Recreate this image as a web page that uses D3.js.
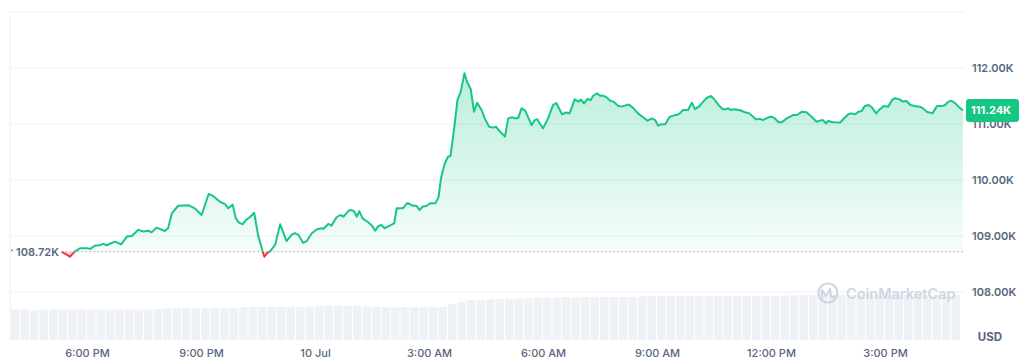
<!DOCTYPE html>
<html>
<head>
<meta charset="utf-8">
<script src="https://cdn.jsdelivr.net/npm/d3@7"></script>
<style>
  body { margin: 0; background: #fff; }
  text { font-family: Inter, "Noto Sans", sans-serif; }
</style>
</head>
<body>
<div id="chart"></div>
<script>
// price samples, 9 Jul 17:20 -> 10 Jul 17:03 (clock times roll over at midnight)
var priceTimes = ["17:20","17:27","17:33","17:41","17:49","18:00","18:05","18:13","18:20","18:26","18:31","18:44","18:54","19:03","19:11","19:21","19:29","19:37","19:42","19:50","20:03","20:08","20:14","20:24","20:40","20:50","21:01","21:12","21:19","21:30","21:38","21:43","21:50","21:55","22:00","22:06","22:11","22:17","22:24","22:30","22:37","22:40","22:45","22:50","22:57","23:05","23:15","23:23","23:28","23:34","23:41","23:47","23:55","00:03","00:11","00:13","00:21","00:26","00:34","00:40","00:45","00:53","00:58","01:02","01:06","01:10","01:15","01:24","01:30","01:35","01:40","01:45","01:50","01:58","02:05","02:09","02:17","02:20","02:25","02:30","02:34","02:40","02:45","02:50","02:56","03:02","03:10","03:15","03:19","03:25","03:30","03:34","03:40","03:45","03:50","03:56","04:00","04:06","04:11","04:16","04:23","04:28","04:35","04:41","04:46","04:52","05:00","05:05","05:11","05:16","05:21","05:26","05:32","05:42","05:47","05:51","05:55","06:00","06:08","06:16","06:21","06:30","06:37","06:42","06:50","06:56","07:00","07:05","07:10","07:15","07:19","07:25","07:30","07:35","07:41","07:46","07:51","07:59","08:04","08:15","08:23","08:30","08:38","08:45","08:52","08:57","09:02","09:07","09:13","09:20","09:26","09:31","09:36","09:41","09:49","09:55","10:00","10:07","10:13","10:18","10:25","10:29","10:37","10:44","10:49","10:53","10:56","11:02","11:11","11:19","11:26","11:36","11:43","11:47","11:56","12:01","12:06","12:12","12:17","12:25","12:35","12:41","12:49","12:56","13:04","13:12","13:17","13:22","13:27","13:30","13:38","13:49","13:54","14:02","14:07","14:13","14:18","14:23","14:28","14:34","14:39","14:46","14:52","14:58","15:05","15:11","15:16","15:23","15:28","15:34","15:40","15:47","15:55","16:00","16:06","16:15","16:22","16:30","16:35","16:40","16:45","16:51","16:56","17:03"];
var priceValues = [108720,108670,108630,108725,108780,108780,108770,108830,108835,108860,108835,108900,108850,108990,109000,109110,109080,109095,109065,109150,109090,109140,109405,109540,109550,109495,109375,109750,109715,109610,109570,109495,109560,109315,109240,109210,109285,109335,109415,109020,108740,108630,108700,108740,108840,109210,108910,109020,109050,109020,108880,108910,109050,109120,109140,109125,109215,109185,109335,109375,109345,109450,109465,109435,109345,109445,109315,109245,109185,109095,109180,109195,109140,109185,109225,109495,109495,109505,109585,109570,109540,109540,109465,109525,109535,109585,109585,109690,110035,110300,110415,110430,110950,111430,111575,111905,111755,111620,111220,111380,111250,111100,110950,110935,110950,110865,110775,111100,111120,111100,111110,111280,111240,110980,111070,111085,111010,110925,111100,111340,111375,111175,111205,111190,111440,111400,111435,111365,111450,111425,111500,111550,111505,111505,111470,111415,111400,111320,111310,111350,111280,111190,111120,111060,111100,111070,110970,110995,110995,111130,111150,111160,111190,111250,111250,111380,111265,111320,111400,111460,111500,111460,111340,111265,111265,111280,111250,111265,111245,111210,111190,111085,111090,111070,111120,111130,111100,111030,111030,111100,111160,111160,111220,111210,111130,111040,111060,111070,111010,111055,111030,111025,111085,111175,111190,111175,111220,111230,111320,111340,111300,111190,111265,111320,111310,111430,111460,111440,111400,111410,111340,111320,111310,111280,111220,111190,111320,111320,111340,111400,111415,111370,111310,111240];

// volume (billions USD), 15 minute slots from 9 Jul 16:00
var volumeStart = "16:00";
var volumeValues = [51.3,51.0,49.4,50.9,51.2,50.6,50.8,51.1,50.7,50.9,50.5,50.8,51.0,50.6,50.9,51.4,
  52.4,52.8,53.0,52.6,53.1,52.9,53.3,53.8,
  54.6,55.0,54.8,55.3,55.1,55.4,55.0,55.6,
  56.4,56.8,56.6,57.0,56.7,56.1,
  54.9,54.5,54.3,54.6,54.4,54.7,54.5,55.2,
  59.8,63.6,
  66.4,67.3,67.8,68.2,
  68.9,69.3,69.6,
  70.4,70.9,71.1,71.3,71.0,71.4,71.2,71.5,71.3,71.6,72.0,
  72.6,73.0,73.2,73.1,73.4,73.3,73.5,73.2,73.6,73.4,73.3,73.7,73.5,73.8,73.6,74.0,74.3,
  74.6,74.8,75.0,74.9,75.1,75.0,75.2,75.1,75.3,75.0,75.2,75.4,75.1,75.3,75.0,75.2,75.1];

var yTicks = [108000, 109000, 110000, 111000, 112000];
var gridValues = [108000, 109000, 110000, 111000, 112000, 113000];
var xTickTimes = ["2025-07-09T18:00","2025-07-09T21:00","2025-07-10T00:00","2025-07-10T03:00","2025-07-10T06:00","2025-07-10T09:00","2025-07-10T12:00","2025-07-10T15:00"];

var green = "#16c784", red = "#ea3943", grey = "#58667e";

// turn clock strings into dates, moving to the next day after midnight
function toDates(times) {
  var day = 9, prev = -1;
  return times.map(function(t) {
    var p = t.split(":"), h = +p[0], m = +p[1];
    if (h * 60 + m < prev) day++;
    prev = h * 60 + m;
    return new Date(2025, 6, day, h, m);
  });
}

var priceDates = toDates(priceTimes);
var data = priceDates.map(function(d, i) { return {date: d, value: priceValues[i]}; });
var vStart = toDates([volumeStart])[0];

var x = d3.scaleTime()
  .domain([new Date(2025, 6, 9, 16, 0), new Date(2025, 6, 10, 17, 0)])
  .range([11, 961]);
var y = d3.scaleLinear().domain([108000, 112000]).range([292, 68]);
var yVol = d3.scaleLinear().domain([0, 100]).range([340, 280]);

var left = 10, right = 965, bottom = 340;
var base = y(priceValues[0]);

var svg = d3.select("#chart").append("svg")
  .attr("width", 1024)
  .attr("height", 360);

var defs = svg.append("defs");
var grad = defs.append("linearGradient")
  .attr("id", "upFill")
  .attr("gradientUnits", "userSpaceOnUse")
  .attr("x1", 0).attr("x2", 0)
  .attr("y1", y(112000)).attr("y2", base);
grad.append("stop").attr("offset", 0).attr("stop-color", green).attr("stop-opacity", 0.3);
grad.append("stop").attr("offset", 1).attr("stop-color", green).attr("stop-opacity", 0.04);

defs.append("clipPath").attr("id", "above")
  .append("rect").attr("x", 0).attr("y", 0).attr("width", 1024).attr("height", base);
defs.append("clipPath").attr("id", "below")
  .append("rect").attr("x", 0).attr("y", base).attr("width", 1024).attr("height", 360 - base);

// grid
svg.selectAll(".grid").data(gridValues).enter().append("line")
  .attr("class", "grid")
  .attr("x1", left).attr("x2", right)
  .attr("y1", function(d) { return y(d); })
  .attr("y2", function(d) { return y(d); })
  .attr("stroke", "#eff1f4");
svg.append("line")
  .attr("x1", left).attr("x2", left)
  .attr("y1", y(113000)).attr("y2", bottom)
  .attr("stroke", "#eff1f4");

// volume bars
var slot = 15 * 60 * 1000;
svg.selectAll(".vol").data(volumeValues).enter().append("rect")
  .attr("class", "vol")
  .attr("x", function(d, i) { return x(new Date(+vStart + i * slot)); })
  .attr("width", function(d, i) { return x(new Date(+vStart + (i + 1) * slot)) - x(new Date(+vStart + i * slot)) - 1; })
  .attr("y", function(d) { return yVol(d); })
  .attr("height", function(d) { return bottom - yVol(d); })
  .attr("fill", "#eef1f5");

// watermark
var wm = svg.append("g").attr("fill", "none").attr("stroke", "#cfd6e4").attr("stroke-width", 2.2);
wm.append("circle").attr("cx", 828).attr("cy", 293).attr("r", 9.5);
wm.append("path").attr("d", "M822,298 L822,290 L826,296 L830,289 L831,297 Q832,298 835,296")
  .attr("stroke-linejoin", "round").attr("stroke-linecap", "round");
svg.append("text")
  .attr("x", 846).attr("y", 299)
  .attr("font-size", 14.5).attr("font-weight", 600)
  .attr("fill", "#cfd6e4")
  .text("CoinMarketCap");

// areas
var area = d3.area()
  .x(function(d) { return x(d.date); })
  .y0(base)
  .y1(function(d) { return y(d.value); });
svg.append("path").datum(data)
  .attr("d", area)
  .attr("fill", "url(#upFill)")
  .attr("clip-path", "url(#above)");
svg.append("path").datum(data)
  .attr("d", area)
  .attr("fill", red).attr("fill-opacity", 0.2)
  .attr("clip-path", "url(#below)");

// open price dotted line
svg.append("line")
  .attr("x1", x(priceDates[0])).attr("x2", right)
  .attr("y1", base).attr("y2", base)
  .attr("stroke", "#a6b0c3")
  .attr("stroke-width", 1.3)
  .attr("stroke-dasharray", "1.3,2.7");

// price line
var line = d3.line()
  .x(function(d) { return x(d.date); })
  .y(function(d) { return y(d.value); });
svg.append("path").datum(data)
  .attr("d", line).attr("fill", "none")
  .attr("stroke", green).attr("stroke-width", 2)
  .attr("stroke-linejoin", "round")
  .attr("clip-path", "url(#above)");
svg.append("path").datum(data)
  .attr("d", line).attr("fill", "none")
  .attr("stroke", red).attr("stroke-width", 2)
  .attr("stroke-linejoin", "round")
  .attr("clip-path", "url(#below)");

// open price label
svg.append("circle").attr("cx", 12).attr("cy", base - 1.5).attr("r", 1).attr("fill", green);
svg.append("text")
  .attr("x", 16).attr("y", base)
  .attr("dy", "0.35em")
  .attr("font-size", 11).attr("font-weight", 600)
  .attr("fill", grey)
  .text((priceValues[0] / 1000).toFixed(2) + "K");

// y axis
var yAxis = svg.append("g")
  .attr("transform", "translate(" + right + ",0)")
  .call(d3.axisRight(y).tickValues(yTicks).tickSize(0).tickPadding(7)
    .tickFormat(function(d) { return (d / 1000).toFixed(2) + "K"; }));
yAxis.select(".domain").remove();
yAxis.selectAll("text")
  .attr("font-family", "Inter").attr("font-size", 11).attr("font-weight", 600).attr("fill", grey);

// x axis
var fmt = d3.timeFormat("%-I:%M %p");
var xAxis = svg.append("g")
  .attr("transform", "translate(0,342.5)")
  .call(d3.axisBottom(x)
    .tickValues(xTickTimes.map(function(s) { return new Date(s); }))
    .tickSize(0).tickPadding(7)
    .tickFormat(function(d) { return d.getHours() === 0 ? d3.timeFormat("%-d %b")(d) : fmt(d); }));
xAxis.select(".domain").remove();
xAxis.selectAll("text")
  .attr("font-family", "Inter").attr("font-size", 11).attr("font-weight", 500).attr("fill", grey);

// last price badge
var last = priceValues[priceValues.length - 1];
svg.append("rect")
  .attr("x", 966).attr("y", y(last) - 11.5)
  .attr("width", 53).attr("height", 23).attr("rx", 3)
  .attr("fill", green);
svg.append("text")
  .attr("x", 971).attr("y", y(last))
  .attr("dy", "0.35em")
  .attr("font-size", 11).attr("font-weight", 700)
  .attr("fill", "#fff")
  .text((last / 1000).toFixed(2) + "K");

svg.append("text")
  .attr("x", 990).attr("y", 337)
  .attr("dy", "0.35em")
  .attr("text-anchor", "middle")
  .attr("font-size", 11.5).attr("font-weight", 700)
  .attr("fill", grey)
  .text("USD");
</script>
</body>
</html>
